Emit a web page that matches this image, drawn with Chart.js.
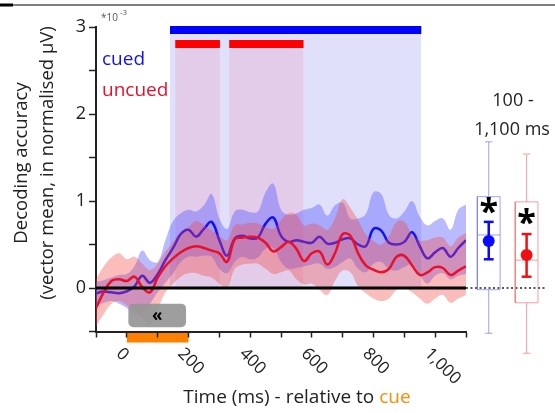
<!DOCTYPE html>
<html>
<head>
<meta charset="utf-8">
<script src="https://cdn.jsdelivr.net/npm/chart.js@4.4.1/dist/chart.umd.min.js"></script>
<style>
  body { margin: 0; background: #fff; }
  #wrap { position: relative; width: 555px; height: 413px; }
  #main { position: absolute; left: 0; top: 0; }
  #inset { position: absolute; left: 466px; top: 0; }
</style>
</head>
<body>
<div id="wrap">
  <canvas id="main" width="555" height="413"></canvas>
  <canvas id="inset" width="89" height="413"></canvas>
</div>
<script>
// time (ms, relative to cue)
const times = [-100, -75, -50, -25, 0, 25, 50, 75, 100, 125, 150, 175, 200, 225, 250, 275, 300, 325,
  350, 375, 400, 425, 450, 475, 500, 525, 550, 575, 600, 625, 650, 675, 700, 725, 750, 775, 800,
  825, 850, 875, 900, 925, 950, 975, 1000, 1025, 1050, 1075, 1100];

// decoding accuracy (*10^-3)
const cuedMean = [-0.06, -0.04, -0.05, -0.06, -0.04, 0.02, 0.14, 0.06, 0.16, 0.32, 0.46, 0.62, 0.67,
  0.59, 0.68, 0.76, 0.55, 0.37, 0.57, 0.60, 0.57, 0.58, 0.74, 0.81, 0.60, 0.53, 0.55, 0.53, 0.52,
  0.59, 0.51, 0.52, 0.56, 0.57, 0.50, 0.48, 0.68, 0.66, 0.52, 0.50, 0.53, 0.64, 0.48, 0.34, 0.41,
  0.46, 0.36, 0.46, 0.55];
const cuedHi = [0.07, 0.09, 0.12, 0.15, 0.16, 0.25, 0.43, 0.32, 0.30, 0.55, 0.77, 0.86, 0.90, 0.88,
  0.95, 1.08, 0.80, 0.68, 0.88, 0.90, 0.87, 0.88, 1.10, 1.20, 0.90, 0.84, 0.86, 0.90, 0.92, 0.96,
  0.83, 0.95, 0.98, 0.80, 0.80, 0.85, 1.10, 1.08, 0.84, 0.80, 0.88, 1.00, 0.82, 0.72, 0.77, 0.80,
  0.67, 0.90, 0.96];
const cuedLo = [-0.20, -0.17, -0.15, -0.18, -0.23, -0.31, -0.28, -0.18, -0.05, 0.06, 0.17, 0.30,
  0.36, 0.36, 0.37, 0.36, 0.22, 0.17, 0.30, 0.36, 0.33, 0.35, 0.45, 0.46, 0.30, 0.22, 0.23, 0.25,
  0.27, 0.28, 0.22, 0.24, 0.30, 0.34, 0.22, 0.18, 0.28, 0.30, 0.22, 0.20, 0.24, 0.28, 0.15, 0.05,
  0.14, 0.17, 0.10, 0.14, 0.16];
const uncuedMean = [-0.23, -0.05, 0.08, 0.10, 0.08, 0.13, 0.01, -0.05, 0.12, 0.25, 0.34, 0.41, 0.46,
  0.48, 0.46, 0.43, 0.40, 0.30, 0.56, 0.58, 0.59, 0.58, 0.52, 0.42, 0.47, 0.53, 0.45, 0.31, 0.40,
  0.42, 0.27, 0.40, 0.62, 0.60, 0.40, 0.26, 0.21, 0.18, 0.22, 0.36, 0.37, 0.26, 0.15, 0.18, 0.24,
  0.23, 0.15, 0.20, 0.25];
const uncuedHi = [0.10, 0.25, 0.35, 0.40, 0.33, 0.36, 0.28, 0.21, 0.28, 0.42, 0.53, 0.64, 0.70, 0.77,
  0.72, 0.66, 0.60, 0.55, 0.72, 0.73, 0.75, 0.74, 0.70, 0.68, 0.78, 0.86, 0.84, 0.72, 0.74, 0.72,
  0.67, 0.80, 1.02, 0.92, 0.78, 0.62, 0.54, 0.50, 0.60, 0.76, 0.76, 0.62, 0.55, 0.55, 0.58, 0.58,
  0.48, 0.58, 0.63];
const uncuedLo = [-0.44, -0.30, -0.18, -0.15, -0.20, -0.24, -0.35, -0.43, -0.25, -0.05, 0.05, 0.13,
  0.17, 0.17, 0.14, 0.12, 0.05, 0.00, 0.22, 0.27, 0.28, 0.28, 0.22, 0.16, 0.18, 0.20, 0.10, 0.04,
  0.05, -0.02, -0.08, 0.08, 0.20, 0.18, 0.02, -0.06, -0.12, -0.15, -0.12, -0.02, 0.00, -0.05, -0.12,
  -0.18, -0.12, -0.08, -0.17, -0.12, -0.08];

// significant clusters (ms)
const cuedSig = [[140, 955]];
const uncuedSig = [[157, 302], [332, 573]];
const cueWindow = [0, 200];
const arrowBox = { x0: 5, x1: 192, y0: -0.18, y1: -0.45 };

const xTickValues = [0, 200, 400, 600, 800, 1000];
const xTickLabels = ['0', '200', '400', '600', '800', '1,000'];
const yTickLabels = [0, 1, 2, 3];

// 100 - 1,100 ms summary (cued, uncued)
const boxWhiskHi = [1.68, 1.54];
const boxQ3 = [1.05, 0.99];
const boxMedian = [0.61, 0.32];
const boxQ1 = [-0.02, -0.17];
const boxWhiskLo = [-0.52, -0.75];
const boxMean = [0.54, 0.38];
const boxErrHi = [0.76, 0.62];
const boxErrLo = [0.33, 0.13];
const boxStar = [0.95, 0.82];

const FONT = '"Open Sans", sans-serif';
const BLUE = '#1010ff';
const RED = '#e8102a';

function pts(xs, ys) {
  return xs.map((x, i) => ({ x: x, y: ys[i] }));
}
function seg(x0, y0, x1, y1) {
  return [{ x: x0, y: y0 }, { x: x1, y: y1 }];
}

let datasets = [];
// shaded significance windows
cuedSig.forEach(s => datasets.push({
  data: seg(s[0], 3, s[1], 3), borderColor: 'rgba(0,0,0,0)', borderWidth: 0,
  backgroundColor: 'rgb(224,224,250)', fill: 'origin', order: 30
}));
uncuedSig.forEach(s => datasets.push({
  data: seg(s[0], 2.76, s[1], 2.76), borderColor: 'rgba(0,0,0,0)', borderWidth: 0,
  backgroundColor: 'rgba(235,160,195,0.3)', fill: 'origin', order: 29
}));
cuedSig.forEach(s => datasets.push({
  data: seg(s[0], 2.965, s[1], 2.965), borderColor: '#0000ff', borderWidth: 8,
  borderCapStyle: 'butt', fill: false, clip: false, order: 28
}));
uncuedSig.forEach(s => datasets.push({
  data: seg(s[0], 2.805, s[1], 2.805), borderColor: '#ff0000', borderWidth: 8,
  borderCapStyle: 'butt', fill: false, clip: false, order: 27
}));
// bands and means
datasets.push({ data: pts(times, cuedLo), borderColor: 'rgba(0,0,0,0)', borderWidth: 0, fill: false, order: 20 });
datasets.push({ data: pts(times, cuedHi), borderColor: 'rgba(0,0,0,0)', borderWidth: 0,
  backgroundColor: 'rgba(90,90,255,0.42)', fill: '-1', order: 19 });
datasets.push({ data: pts(times, cuedMean), borderColor: BLUE, borderWidth: 2.5, fill: false, order: 18 });
datasets.push({ data: pts(times, uncuedLo), borderColor: 'rgba(0,0,0,0)', borderWidth: 0, fill: false, order: 17 });
datasets.push({ data: pts(times, uncuedHi), borderColor: 'rgba(0,0,0,0)', borderWidth: 0,
  backgroundColor: 'rgba(245,70,70,0.36)', fill: '-1', order: 16 });
datasets.push({ data: pts(times, uncuedMean), borderColor: RED, borderWidth: 2.5, fill: false, order: 15 });
// zero line
datasets.push({ data: seg(-100, 0, 1100, 0), borderColor: '#000', borderWidth: 3, fill: false, order: 5 });

const mainDecor = {
  id: 'mainDecor',
  beforeDraw(chart) {
    const ctx = chart.ctx, x = chart.scales.x, a = chart.chartArea;
    ctx.save();
    ctx.fillStyle = '#fff';
    ctx.fillRect(0, 0, chart.width, chart.height);
    ctx.fillStyle = '#ff8000';
    const x0 = x.getPixelForValue(cueWindow[0]), x1 = x.getPixelForValue(cueWindow[1]);
    ctx.fillRect(x0, a.bottom, x1 - x0, 11);
    ctx.restore();
  },
  afterDatasetsDraw(chart) {
    const ctx = chart.ctx, x = chart.scales.x, y = chart.scales.y;
    const x0 = x.getPixelForValue(arrowBox.x0), x1 = x.getPixelForValue(arrowBox.x1);
    const y0 = y.getPixelForValue(arrowBox.y0), y1 = y.getPixelForValue(arrowBox.y1);
    ctx.save();
    ctx.fillStyle = 'rgba(150,150,150,0.92)';
    ctx.beginPath();
    ctx.roundRect(x0, y0, x1 - x0, y1 - y0, 5);
    ctx.fill();
    ctx.fillStyle = '#000';
    ctx.font = 'bold 17px ' + FONT;
    ctx.textAlign = 'center';
    ctx.textBaseline = 'middle';
    ctx.fillText('«', (x0 + x1) / 2, (y0 + y1) / 2 + 1);
    ctx.restore();
  },
  afterDraw(chart) {
    const ctx = chart.ctx, x = chart.scales.x;
    ctx.save();
    // top rule
    ctx.fillStyle = '#000';
    ctx.fillRect(0, 4.5, chart.width, 1);
    ctx.fillRect(0, 3.5, 13, 3);
    // rotated x tick labels
    ctx.fillStyle = '#222';
    ctx.font = '17px ' + FONT;
    ctx.textAlign = 'left';
    ctx.textBaseline = 'middle';
    xTickValues.forEach((v, i) => {
      ctx.save();
      ctx.translate(x.getPixelForValue(v) - 8, 351);
      ctx.rotate(Math.PI / 4);
      ctx.fillText(xTickLabels[i], 0, 0);
      ctx.restore();
    });
    // x title
    ctx.font = '19px ' + FONT;
    ctx.textBaseline = 'alphabetic';
    const t1 = 'Time (ms) - relative to ', t2 = 'cue';
    const w1 = ctx.measureText(t1).width, w2 = ctx.measureText(t2).width;
    let sx = 297 - (w1 + w2) / 2;
    ctx.fillStyle = '#222';
    ctx.fillText(t1, sx, 403);
    ctx.fillStyle = '#ff8c00';
    ctx.fillText(t2, sx + w1, 403);
    // y title
    ctx.fillStyle = '#222';
    ctx.textAlign = 'center';
    ctx.textBaseline = 'middle';
    ctx.font = '18.5px ' + FONT;
    ctx.save();
    ctx.translate(22, 163);
    ctx.rotate(-Math.PI / 2);
    ctx.fillText('Decoding accuracy', 0, 0);
    ctx.restore();
    ctx.save();
    ctx.translate(48, 163);
    ctx.rotate(-Math.PI / 2);
    ctx.fillText('(vector mean, in normalised µV)', 0, 0);
    ctx.restore();
    // exponent
    ctx.fillStyle = '#555';
    ctx.textAlign = 'left';
    ctx.textBaseline = 'alphabetic';
    ctx.font = '10px ' + FONT;
    ctx.fillText('*10', 101, 21);
    ctx.font = '8px ' + FONT;
    ctx.fillText('-3', 120, 15);
    // legend
    ctx.font = '19px ' + FONT;
    ctx.textBaseline = 'middle';
    ctx.fillStyle = BLUE;
    ctx.fillText('cued', 102, 60);
    ctx.fillStyle = RED;
    ctx.fillText('uncued', 102, 91);
    ctx.restore();
  }
};

new Chart(document.getElementById('main'), {
  type: 'line',
  data: { datasets: datasets },
  options: {
    responsive: false,
    animation: false,
    devicePixelRatio: 1,
    layout: { padding: { left: 56, right: 89, top: 27, bottom: 61.5 } },
    elements: { point: { radius: 0 }, line: { tension: 0.4 } },
    plugins: { legend: { display: false }, tooltip: { enabled: false } },
    scales: {
      x: {
        type: 'linear', min: -100, max: 1100, z: 1,
        ticks: { display: false, stepSize: 100 },
        grid: { drawOnChartArea: false, tickLength: 6, color: '#222', tickWidth: 1.5 },
        border: { color: '#222', width: 2 },
        afterFit: s => { s.height = 20; }
      },
      y: {
        type: 'linear', min: -0.5, max: 3, z: 1,
        ticks: {
          stepSize: 0.5, padding: 3, color: '#222', font: { family: FONT, size: 18 },
          callback: v => yTickLabels.includes(v) ? String(v) : ''
        },
        grid: { drawOnChartArea: false, tickLength: 7, color: '#222', tickWidth: 1.5 },
        border: { color: '#222', width: 2 },
        afterFit: s => { s.width = 40; }
      }
    }
  },
  plugins: [mainDecor]
});

// inset: summary over 100 - 1,100 ms
const insetLight = ['rgba(120,120,255,0.7)', 'rgba(240,120,120,0.7)'];
const insetStrong = ['#0a0aff', '#ee1111'];
let insetSets = [];
insetSets.push({ data: seg(-0.6, 0, 1.52, 0), borderColor: '#222', borderWidth: 1.3, borderDash: [2, 2.5], order: 40 });
boxMean.forEach((m, i) => {
  const lc = insetLight[i], sc = insetStrong[i];
  const line = (d, c, w) => insetSets.push({ data: d, borderColor: c, borderWidth: w, fill: false, tension: 0, order: 30 });
  line([{ x: i - 0.3, y: boxQ1[i] }, { x: i + 0.3, y: boxQ1[i] }, { x: i + 0.3, y: boxQ3[i] },
        { x: i - 0.3, y: boxQ3[i] }, { x: i - 0.3, y: boxQ1[i] }], lc, 1);
  line(seg(i - 0.3, boxMedian[i], i + 0.3, boxMedian[i]), lc, 1);
  line(seg(i, boxQ3[i], i, boxWhiskHi[i]), lc, 1);
  line(seg(i, boxWhiskLo[i], i, boxQ1[i]), lc, 1);
  line(seg(i - 0.1, boxWhiskHi[i], i + 0.1, boxWhiskHi[i]), lc, 1);
  line(seg(i - 0.1, boxWhiskLo[i], i + 0.1, boxWhiskLo[i]), lc, 1);
  insetSets.push({ data: seg(i, boxErrLo[i], i, boxErrHi[i]), borderColor: sc, borderWidth: 2.5, order: 10 });
  insetSets.push({ data: seg(i - 0.13, boxErrHi[i], i + 0.13, boxErrHi[i]), borderColor: sc, borderWidth: 2.5, order: 10 });
  insetSets.push({ data: seg(i - 0.13, boxErrLo[i], i + 0.13, boxErrLo[i]), borderColor: sc, borderWidth: 2.5, order: 10 });
  insetSets.push({ data: [{ x: i, y: m }], showLine: false, pointRadius: 6, pointBackgroundColor: sc,
    pointBorderWidth: 0, order: 5 });
});

const insetDecor = {
  id: 'insetDecor',
  afterDraw(chart) {
    const ctx = chart.ctx, x = chart.scales.x, y = chart.scales.y;
    ctx.save();
    ctx.fillStyle = '#222';
    ctx.font = '18px ' + FONT;
    ctx.textAlign = 'center';
    ctx.textBaseline = 'alphabetic';
    ctx.fillText('100 -', 47, 106);
    ctx.fillText('1,100 ms', 46, 135);
    ctx.font = 'bold 34px ' + FONT;
    ctx.fillStyle = '#000';
    const m = ctx.measureText('*');
    const dy = (m.actualBoundingBoxAscent - m.actualBoundingBoxDescent) / 2;
    boxStar.forEach((s, i) => {
      ctx.fillText('*', x.getPixelForValue(i), y.getPixelForValue(s) + dy);
    });
    ctx.restore();
  }
};

new Chart(document.getElementById('inset'), {
  type: 'line',
  data: { datasets: insetSets },
  options: {
    responsive: false,
    animation: false,
    devicePixelRatio: 1,
    layout: { autoPadding: false, padding: { left: 0, right: 0, top: 27, bottom: 38 } },
    elements: { point: { radius: 0 } },
    plugins: { legend: { display: false }, tooltip: { enabled: false } },
    scales: {
      x: { type: 'linear', min: -0.6, max: 1.75, display: false },
      y: { type: 'linear', min: -1, max: 3, display: false }
    }
  },
  plugins: [insetDecor]
});
</script>
</body>
</html>
